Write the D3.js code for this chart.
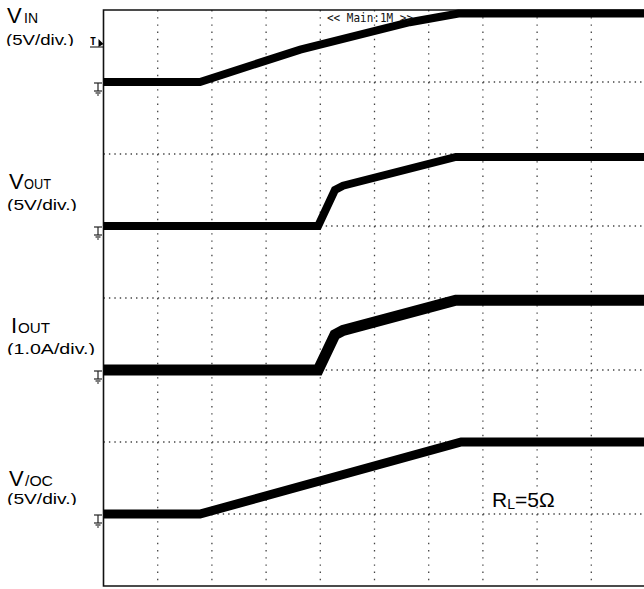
<!DOCTYPE html>
<html><head><meta charset="utf-8">
<script src="https://cdn.jsdelivr.net/npm/d3@7"></script>
<style>body{margin:0;background:#fff}svg{display:block}</style>
</head><body>
<script>
// time in divisions (0..10), values in divisions from bottom (0..8)
const vinT  = [0, 1.78, 3.63, 5.65, 6.55, 10];
const vinV  = [7.0, 7.0, 7.45, 7.83, 7.95, 7.95];
const voutT = [0, 3.96, 4.27, 4.42, 6.5, 10];
const voutV = [5.0, 5.0, 5.5, 5.56, 5.96, 5.96];
const ioutT = [0, 3.96, 4.27, 4.42, 6.5, 10];
const ioutV = [3.0, 3.0, 3.49, 3.55, 3.97, 3.97];
const vocT  = [0, 1.78, 6.6, 10];
const vocV  = [1.0, 1.0, 2.0, 2.0];
const xTicks = [0,1,2,3,4,5,6,7,8,9,10];
const yTicks = [0,1,2,3,4,5,6,7,8];
const groundLevels = [7, 5, 3, 1];

const W = 644, H = 589;
const x = d3.scaleLinear().domain([0,10]).range([103.5, 645.5]);
const y = d3.scaleLinear().domain([0,8]).range([586, 10]);

const svg = d3.select("body").append("svg").attr("width", W).attr("height", H);

// grid
svg.append("g").selectAll("line").data(xTicks.slice(1,10)).join("line")
  .attr("x1", d=>x(d)).attr("x2", d=>x(d)).attr("y1", y(8)).attr("y2", y(0))
  .attr("stroke", "#444").attr("stroke-width", 1.3).attr("stroke-dasharray", "1.4,5.8");
svg.append("g").selectAll("line").data(yTicks.slice(1,8)).join("line")
  .attr("x1", x(0)).attr("x2", x(10)).attr("y1", d=>y(d)).attr("y2", d=>y(d))
  .attr("stroke", "#444").attr("stroke-width", 1.3).attr("stroke-dasharray", "1.4,4.02");

// frame
svg.append("path").attr("d", `M${x(10)},${y(8)}H${x(0)}V${y(0)}H${x(10)}`)
  .attr("fill", "none").attr("stroke", "#111").attr("stroke-width", 1.6);

// traces
const line = d3.line().x(d=>x(d[0])).y(d=>y(d[1]));
const traces = [
  {t: vinT, v: vinV, w: 8},
  {t: voutT, v: voutV, w: 8},
  {t: ioutT, v: ioutV, w: 11},
  {t: vocT, v: vocV, w: 9}
];
traces.forEach(tr => {
  svg.append("path").attr("d", line(tr.t.map((t,i)=>[t, tr.v[i]])))
    .attr("fill", "none").attr("stroke", "#000").attr("stroke-width", tr.w)
    .attr("stroke-linejoin", "miter");
});

// ground markers
groundLevels.forEach(g => {
  const gy = y(g) + 1;
  const gx = x(0) - 5.5;
  const m = svg.append("g").attr("stroke", "#222").attr("stroke-width", 1.2);
  m.append("line").attr("x1", gx-4).attr("x2", gx+4).attr("y1", gy).attr("y2", gy);
  m.append("line").attr("x1", gx).attr("x2", gx).attr("y1", gy).attr("y2", gy+8);
  m.append("line").attr("x1", gx-4).attr("x2", gx+4).attr("y1", gy+8).attr("y2", gy+8);
  m.append("line").attr("x1", gx-2.5).attr("x2", gx+2.5).attr("y1", gy+10).attr("y2", gy+10);
  m.append("line").attr("x1", gx-1).attr("x2", gx+1).attr("y1", gy+12).attr("y2", gy+12);
});
// trigger marker
const tg = svg.append("g");
tg.append("text").attr("x", 90).attr("y", 45).attr("font-family", "DejaVu Sans Mono, monospace")
  .attr("font-size", 10).attr("font-weight", "bold").text("T");
tg.append("path").attr("d", `M${x(0)-5},39 L${x(0)},44 L${x(0)-5},47 Z`).attr("fill", "#000");
tg.append("line").attr("x1", 90).attr("x2", x(0)).attr("y1", 47).attr("y2", 47).attr("stroke", "#000").attr("stroke-width", 1);

// top label
svg.append("text").attr("x", 327).attr("y", 22).attr("font-family", "DejaVu Sans Mono, monospace")
  .attr("font-size", 11.5).attr("fill", "#111").attr("textLength", 86).attr("lengthAdjust", "spacingAndGlyphs")
  .text("<< Main:1M >>");

// channel labels
const labels = [
  {main: "V", sub: "IN", unit: "(5V/div.)", mx: 7, my: 23, sx: 24, sw: 14, ux: 6, uy: 45, uw: 68},
  {main: "V", sub: "OUT", unit: "(5V/div.)", mx: 9, my: 189, sx: 24, sw: 27, ux: 7, uy: 210, uw: 70},
  {main: "I", sub: "OUT", unit: "(1.0A/div.)", mx: 11, my: 333, sx: 18, sw: 32, ux: 7, uy: 354, uw: 88},
  {main: "V", sub: "/OC", unit: "(5V/div.)", mx: 9, my: 486, sx: 25, sw: 28, ux: 7, uy: 504, uw: 70}
];
const ff = "Liberation Sans, Arial, sans-serif";
labels.forEach((L, i) => {
  svg.append("text").attr("x", L.mx).attr("y", L.my).attr("font-family", ff).attr("font-size", 22).text(L.main);
  svg.append("text").attr("x", L.sx).attr("y", L.my).attr("font-family", ff).attr("font-size", 15)
    .attr("textLength", L.sw).attr("lengthAdjust", "spacingAndGlyphs").text(L.sub);
  const cid = "clip" + i;
  svg.append("clipPath").attr("id", cid).append("rect")
    .attr("x", 0).attr("y", L.uy - 16).attr("width", 100).attr("height", 17);
  svg.append("text").attr("x", L.ux).attr("y", L.uy).attr("font-family", ff).attr("font-size", 15)
    .attr("textLength", L.uw).attr("lengthAdjust", "spacingAndGlyphs")
    .attr("clip-path", `url(#${cid})`).text(L.unit);
});

// R_L label
const rl = svg.append("text").attr("x", 492).attr("y", 507).attr("font-family", ff).attr("font-size", 21);
rl.append("tspan").text("R");
rl.append("tspan").attr("font-size", 14).attr("dy", 2).text("L");
rl.append("tspan").attr("dy", -2).text("=5Ω");
</script>
</body></html>
